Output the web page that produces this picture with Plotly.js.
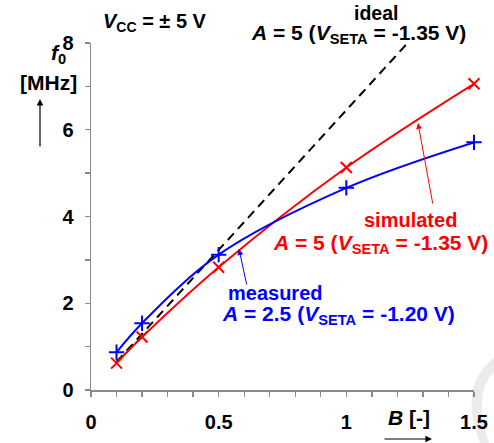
<!DOCTYPE html>
<html><head><meta charset="utf-8">
<script src="https://cdn.plot.ly/plotly-3.0.1.min.js"></script>
<style>html,body{margin:0;padding:0;background:#fff}</style>
</head><body>
<div id="chart" style="width:494px;height:443px"></div>
<script>
var simB = [0.1, 0.2, 0.5, 1.0, 1.5];
var simF = [0.62, 1.22, 2.83, 5.13, 7.06];
var measB = [0.1, 0.2, 0.5, 1.0, 1.5];
var measF = [0.87, 1.54, 3.12, 4.66, 5.71];
var idealB = [0.1, 1.24];
var idealF = [0.65, 8.0];
var xTickVals = [0, 0.5, 1, 1.5];
var xTickText = ['<b>0</b>', '<b>0.5</b>', '<b>1</b>', '<b>1.5</b>'];
var yTickVals = [0, 2, 4, 6, 8];
var yTickText = ['<b>0</b>', '<b>2</b>', '<b>4</b>', '<b>6</b>', '<b>8</b>'];

var FONT = 'Liberation Sans, Arial, sans-serif';
var red = '#ff0000', blue = '#0000ff';

var traces = [
  {x: idealB, y: idealF, mode: 'lines', line: {color: '#000', width: 2, dash: '9px,6px'}, hoverinfo: 'skip'},
  {x: simB, y: simF, mode: 'lines+markers', line: {color: red, width: 2, shape: 'spline'},
   marker: {symbol: 'x-thin', size: 11, line: {color: red, width: 2}}, cliponaxis: false},
  {x: measB, y: measF, mode: 'lines+markers', line: {color: blue, width: 2, shape: 'spline'},
   marker: {symbol: 'cross-thin', size: 11, line: {color: blue, width: 2}}, cliponaxis: false}
];

function ann(text, x, y, color, size, xanchor) {
  return {text: '<b>' + text + '</b>', x: x, y: y, xref: 'paper', yref: 'paper', showarrow: false,
    xanchor: xanchor || 'center', yanchor: 'middle',
    font: {family: FONT, size: size || 19, color: color || '#000'}};
}
// paper coordinate helpers (plot area: x 91..474, y 43..390)
function px(x) { return (x - 91) / 383; }
function py(y) { return (390 - y) / 347; }

var annotations = [
  ann('<i>V</i><sub>CC</sub> = ± 5 V', px(155), py(22), '#000', 20),
  ann('ideal', px(376), py(13), '#000', 19.5),
  ann('<i>A</i> = 5 (<i>V</i><sub>SETA</sub> = -1.35 V)', px(358), py(34), '#000', 21),
  ann('simulated', px(410), py(220), red, 20),
  ann('<i>A</i> = 5 (<i>V</i><sub>SETA</sub> = -1.35 V)', px(380), py(244), red, 21),
  ann('measured', px(275), py(293), blue, 20),
  ann('<i>A</i> = 2.5 (<i>V</i><sub>SETA</sub> = -1.20 V)', px(338), py(315), blue, 21),
  ann('<i>f</i><sub>0</sub>', px(58), py(54), '#000', 21),
  ann('[MHz]', px(48), py(82), '#000', 21),
  ann('<i>B</i> [-]', px(409), py(417), '#000', 21),
  {x: px(418), y: py(123), ax: px(433), ay: py(205), xref: 'paper', yref: 'paper', axref: 'paper', ayref: 'paper',
   showarrow: true, arrowhead: 2, arrowsize: 1.2, arrowwidth: 1, arrowcolor: red, text: ''},
  {x: px(239), y: py(249), ax: px(247), ay: py(286), xref: 'paper', yref: 'paper', axref: 'paper', ayref: 'paper',
   showarrow: true, arrowhead: 2, arrowsize: 1.2, arrowwidth: 1, arrowcolor: blue, text: ''},
  {x: px(40), y: py(99), ax: px(40), ay: py(148), xref: 'paper', yref: 'paper', axref: 'paper', ayref: 'paper',
   showarrow: true, arrowhead: 2, arrowsize: 1.1, arrowwidth: 1.2, arrowcolor: '#000', text: ''},
  {x: px(432), y: py(439), ax: px(383), ay: py(439), xref: 'paper', yref: 'paper', axref: 'paper', ayref: 'paper',
   showarrow: true, arrowhead: 2, arrowsize: 1.1, arrowwidth: 1.2, arrowcolor: '#000', text: ''}
];

// faint watermark crescent at bottom-right
function P(x, y) { return px(x).toFixed(4) + ',' + py(y).toFixed(4); }
var shapes = [{
  type: 'path', xref: 'paper', yref: 'paper', layer: 'below',
  path: 'M' + P(494, 358) + ' Q' + P(458, 385) + ' ' + P(480, 443) + ' L' + P(489, 443) +
        ' Q' + P(472, 395) + ' ' + P(494, 372) + ' Z',
  fillcolor: '#ebebeb', line: {width: 0}
}];

var axisCommon = {
  showgrid: false, zeroline: false, showline: true, linecolor: '#8a8a8a', linewidth: 1.5,
  ticks: 'outside', ticklen: 5, tickwidth: 1.3, tickcolor: '#8a8a8a',
  tickfont: {family: FONT, size: 20, color: '#000'}
};

var layout = {
  width: 494, height: 443,
  margin: {l: 91, r: 20, t: 43, b: 53},
  paper_bgcolor: '#fff', plot_bgcolor: 'rgba(0,0,0,0)',
  showlegend: false,
  xaxis: Object.assign({}, axisCommon, {range: [0, 1.5], tickvals: xTickVals, ticktext: xTickText,
    ticklabelstandoff: 8, minor: {dtick: 0.1, tick0: 0, ticks: 'outside', ticklen: 5, tickwidth: 1.3, tickcolor: '#8a8a8a'}}),
  yaxis: Object.assign({}, axisCommon, {range: [0, 8], tickvals: yTickVals, ticktext: yTickText,
    ticklabelstandoff: 7, minor: {dtick: 1, tick0: 0, ticks: 'outside', ticklen: 5, tickwidth: 1.3, tickcolor: '#8a8a8a'}}),
  annotations: annotations,
  shapes: shapes
};

Plotly.newPlot('chart', traces, layout, {staticPlot: true});
</script>
</body></html>
